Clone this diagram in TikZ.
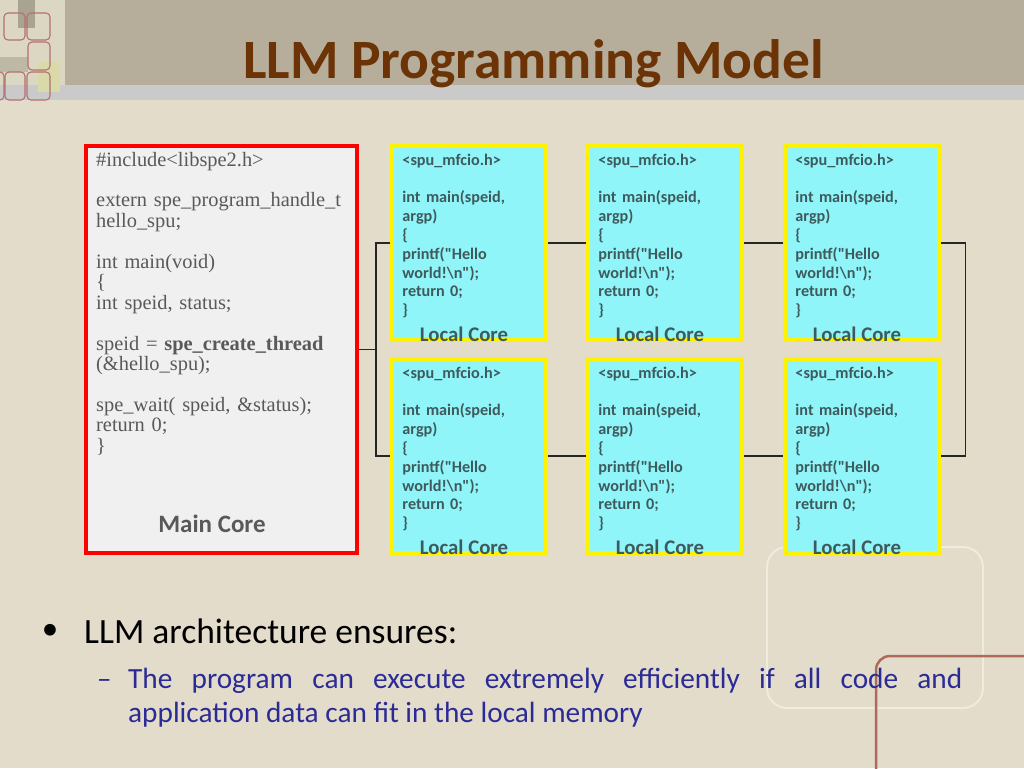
\documentclass[tikz,border=0pt]{standalone}
\usepackage{fontspec}
\setmainfont{Carlito}
\newfontfamily\codeserif{Liberation Serif}
\usetikzlibrary{calc}
\definecolor{bgc}{HTML}{E3DCCB}
\definecolor{hdr}{HTML}{B6AE9B}
\definecolor{band}{HTML}{CACACA}
\definecolor{titlec}{HTML}{6B3306}
\definecolor{mainfill}{HTML}{F0F0F0}
\definecolor{maintext}{HTML}{595959}
\definecolor{cyanfill}{HTML}{90F5F9}
\definecolor{lctext}{HTML}{3E5A5C}
\definecolor{subtext}{HTML}{2B2B96}
\definecolor{decored}{HTML}{B47070}
\definecolor{decobrown}{HTML}{B06A5C}
\definecolor{decolight}{HTML}{DCD7C3}
\definecolor{decodark}{HTML}{A9A391}
\definecolor{decomid}{HTML}{BEB8A6}
\definecolor{decoyel}{HTML}{D9D9AA}
\definecolor{decoframe}{HTML}{F0EBDE}
\tikzset{
  mainbox/.style={draw=red, line width=4pt, fill=mainfill, minimum width=271pt, minimum height=407pt, inner sep=0pt},
  lcbox/.style={draw=yellow, line width=3.5pt, fill=cyanfill, minimum width=154pt, minimum height=194pt, inner sep=0pt},
  lccode/.style={anchor=base west, inner sep=0pt, text width=140pt, align=left, text=lctext, font=\fontsize{16.2}{18.8}\selectfont\bfseries},
  lclabel/.style={anchor=base, inner sep=0pt, text=lctext, font=\fontsize{20.8}{22}\selectfont\bfseries},
  conn/.style={draw=black!85, line width=1.2pt},
  deco/.style={draw=decored, line width=1.1pt, rounded corners=4pt},
}
\newcommand{\spucode}{<spu\_mfcio.h>\\ \mbox{}\\ int main(speid,\\ argp)\\ \{\\ printf(\textquotedbl Hello\\ world!\textbackslash n\textquotedbl);\\ return 0;\\ \}}
\begin{document}
\begin{tikzpicture}[x=1pt, y=-1pt]
\useasboundingbox (0,0) rectangle (1024,768);
% background
\fill[bgc] (0,0) rectangle (1024,768);
\fill[hdr] (0,0) rectangle (1024,85);
\fill[band] (0,85) rectangle (1024,100);
% top-left decoration
\fill[decolight] (0,0) rectangle (65,85);
\fill[decodark] (18,0) rectangle (35,28);
\fill[decomid] (0,57) rectangle (28,72);
\fill[decoyel] (38,62) rectangle (60,92);
\draw[deco] (4,13) rectangle (25,40);
\draw[deco] (27,13) rectangle (50,40);
\draw[deco] (28,42) rectangle (50,70);
\draw[deco] (-8,72) rectangle (4,100);
\draw[deco] (5,72) rectangle (25,100);
\draw[deco] (27,72) rectangle (50,100);
% bottom-right decoration
\draw[decoframe, line width=2pt, rounded corners=20pt] (767,547) rectangle (983,708);
\draw[decobrown, line width=2.5pt, rounded corners=14pt] (876,770) -- (876,656) -- (1026,656);
% title
\node[anchor=base west, inner sep=0pt, text=titlec, font=\fontsize{55.5}{60}\selectfont\bfseries] (title) at (243,78) {LLM Programming Model};
% main core
\node[mainbox] (main) at (221.5,349.5) {};
\node[anchor=base west, inner sep=0pt, text width=260pt, align=left, text=maintext, font=\fontsize{20.4}{20.45}\selectfont\codeserif] (maincode) at (96,166)
  {\#include<libspe2.h>\\ \mbox{}\\ extern spe\_program\_handle\_t\\ hello\_spu;\\ \mbox{}\\ int main(void)\\ \{\\ int speid, status;\\ \mbox{}\\ speid = \textbf{spe\_create\_thread}\\ (\&hello\_spu);\\ \mbox{}\\ spe\_wait( speid, \&status);\\ return 0;\\ \}};
\node[anchor=base, inner sep=0pt, text=maintext, font=\fontsize{25}{28}\selectfont\bfseries] (mainlabel) at (212,532) {Main Core};
% local cores
\foreach \r/\yc in {1/243, 2/456} {
  \foreach \c/\xc in {1/469, 2/665, 3/862} {
    \node[lcbox] (lc\r\c) at (\xc,\yc) {};
    \node[lccode] (lcc\r\c) at ($(lc\r\c.north west)+(12,21)$) {\spucode};
    \node[lclabel] (lcl\r\c) at ($(lc\r\c.south)+(-5,0)$) {Local Core};
  }
}
% connectors
\coordinate (jl) at ($(main.east)+(17,0)$);
\draw[conn] (main.east) -- (jl);
\draw[conn] (lc11.west) -| (jl) |- (lc21.west);
\draw[conn] (lc11.east) -- (lc12.west);
\draw[conn] (lc12.east) -- (lc13.west);
\draw[conn] (lc21.east) -- (lc22.west);
\draw[conn] (lc22.east) -- (lc23.west);
\coordinate (jr) at ($(lc13.east)+(25,0)$);
\draw[conn] (lc13.east) -- (jr) |- (lc23.east);
% bullets
\node[inner sep=0pt, font=\fontsize{33}{36}\selectfont] (b1) at (50,632) {\textbullet};
\node[anchor=base west, inner sep=0pt, font=\fontsize{35.5}{38}\selectfont] (t1) at (84,643) {LLM architecture ensures:};
\node[anchor=base west, inner sep=0pt, text=subtext, font=\fontsize{29}{34}\selectfont] (d1) at (97,688) {\textendash};
\node[anchor=base west, inner sep=0pt, text width=834pt, align=justify, text=subtext, font=\fontsize{29.3}{34}\selectfont] (t2) at (128,688)
  {The program can execute extremely efficiently if all code and\linebreak application data can fit in the local memory};
\end{tikzpicture}
\end{document}
